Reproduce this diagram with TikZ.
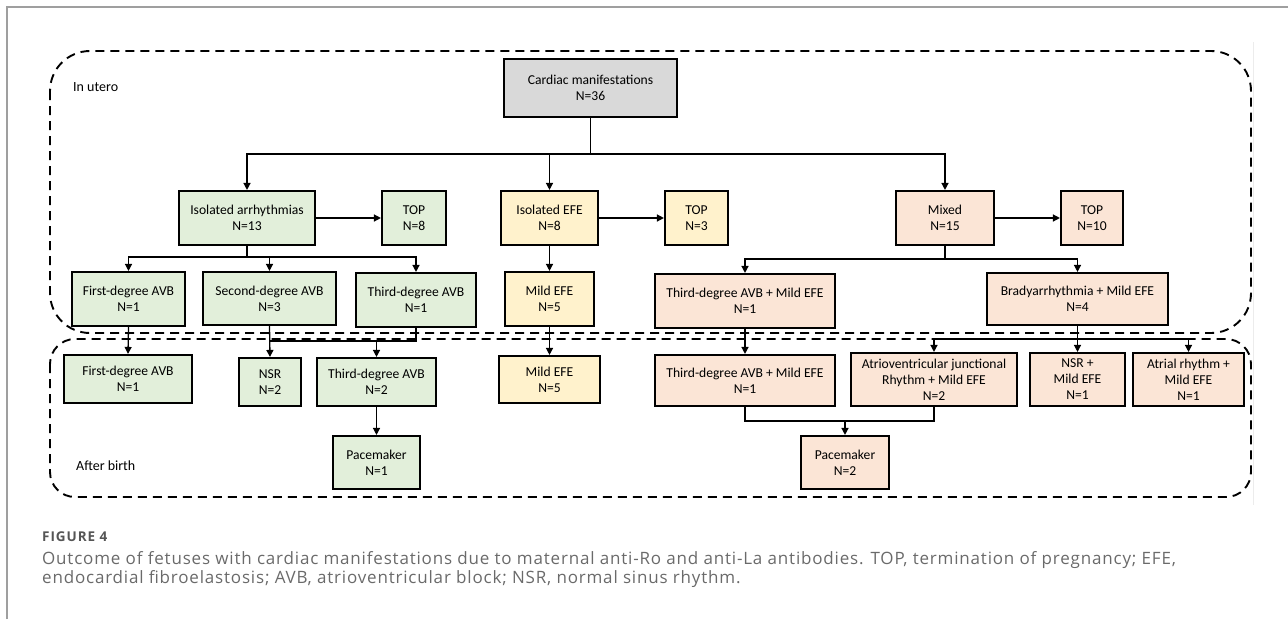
\documentclass[tikz,border=0pt]{standalone}
\usepackage{fontspec}
\setmainfont{Carlito}
\newfontfamily\capfont[LetterSpace=4.8]{Open Sans}
\newfontfamily\capheadfont[LetterSpace=7]{Open Sans}
\usetikzlibrary{arrows.meta}
\definecolor{gfill}{HTML}{E2EFDA}
\definecolor{yfill}{HTML}{FFF2CC}
\definecolor{pfill}{HTML}{FBE5D6}
\definecolor{cfill}{HTML}{D9D9D9}
\definecolor{captext}{HTML}{6A6A6A}
\definecolor{caphead}{HTML}{555555}
\tikzset{
  box/.style={draw, line width=2.1pt, inner sep=0pt, align=center,
    font=\fontsize{13.6}{16}\selectfont},
  gbox/.style={box, fill=gfill},
  ybox/.style={box, fill=yfill},
  pbox/.style={box, fill=pfill},
  conn/.style={line width=1.3pt},
  arr/.style={conn, -{Triangle[length=7pt,width=7pt]}},
  region/.style={line width=1.9pt, dash pattern=on 9pt off 6pt},
  lbl/.style={anchor=west, inner sep=0pt, font=\fontsize{14}{16}\selectfont},
}
\begin{document}
\begin{tikzpicture}[x=1pt,y=-1pt]
\useasboundingbox (0,0) rectangle (1288,619);
% frame
\draw[gray!75, line width=1.2pt] (7,619) -- (7,7) -- (1288,7);
\draw[gray!15, line width=1pt] (1253,42) -- (1253,505);
% regions
\draw[region, rounded corners=40pt] (50,51) rectangle (1251,333);
\draw[region, rounded corners=25pt] (50,339) rectangle (1251,497);
\node[lbl] (lu) at (73,87) {In utero};
\node[lbl] (lb) at (76,466) {After birth};
% level 0
\node[box, fill=cfill, minimum width=173pt, minimum height=58pt] (cm) at (590.5,88) {Cardiac manifestations\\N=36};
% level 1
\node[gbox, minimum width=136pt, minimum height=54pt] (ia) at (247,218) {Isolated arrhythmias\\N=13};
\node[gbox, minimum width=64pt, minimum height=54pt] (top8) at (414,218) {TOP\\N=8};
\node[ybox, minimum width=97pt, minimum height=54pt] (ie) at (549.5,218) {Isolated EFE\\N=8};
\node[ybox, minimum width=63pt, minimum height=54pt] (top3) at (696.5,218) {TOP\\N=3};
\node[pbox, minimum width=98pt, minimum height=54pt] (mx) at (945,218) {Mixed\\N=15};
\node[pbox, minimum width=62pt, minimum height=54pt] (top10) at (1092,218) {TOP\\N=10};
% level 2 (in utero)
\node[gbox, minimum width=113pt, minimum height=54pt] (u1) at (128.5,299) {First-degree AVB\\N=1};
\node[gbox, minimum width=133pt, minimum height=53pt] (u2) at (269.5,298.5) {Second-degree AVB\\N=3};
\node[gbox, minimum width=120pt, minimum height=54pt] (u3) at (416,300) {Third-degree AVB\\N=1};
\node[ybox, minimum width=89pt, minimum height=54pt] (ume) at (549.5,299) {Mild EFE\\N=5};
\node[pbox, minimum width=180pt, minimum height=54pt] (umx1) at (745,301) {Third-degree AVB + Mild EFE\\N=1};
\node[pbox, minimum width=181pt, minimum height=52pt] (umx2) at (1077.5,299) {Bradyarrhythmia + Mild EFE\\N=4};
% after birth
\node[gbox, minimum width=128pt, minimum height=48pt] (b1) at (128,379) {First-degree AVB\\N=1};
\node[gbox, minimum width=62pt, minimum height=48pt] (bnsr) at (270,382) {NSR\\N=2};
\node[gbox, minimum width=119pt, minimum height=48pt] (b3) at (376.5,382) {Third-degree AVB\\N=2};
\node[gbox, minimum width=87pt, minimum height=53pt] (bpm) at (376.5,462.5) {Pacemaker\\N=1};
\node[ybox, minimum width=101pt, minimum height=47pt] (bme) at (549.5,379.5) {Mild EFE\\N=5};
\node[pbox, minimum width=180pt, minimum height=51pt] (bmx1) at (745,380.5) {Third-degree AVB + Mild EFE\\N=1};
\node[pbox, minimum width=166pt, minimum height=53pt] (bav) at (934,379.5) {Atrioventricular junctional\\Rhythm + Mild EFE\\N=2};
\node[pbox, minimum width=95pt, minimum height=53pt] (bnsr2) at (1077.5,379.5) {NSR +\\Mild EFE\\N=1};
\node[pbox, minimum width=111pt, minimum height=53pt] (bar) at (1188.5,379.5) {Atrial rhythm +\\Mild EFE\\N=1};
\node[pbox, minimum width=88pt, minimum height=53pt] (bpm2) at (845,462.5) {Pacemaker\\N=2};
% connectors level 0 -> 1
\coordinate (j1) at (590.5,154);
\draw[conn] (cm.south) -- (j1);
\draw[arr] (j1) -| (ia.north);
\draw[arr] (j1) -| (ie.north);
\draw[arr] (j1) -| (mx.north);
\draw[arr] (ia.east) -- (top8.west);
\draw[arr] (ie.east) -- (top3.west);
\draw[arr] (mx.east) -- (top10.west);
% isolated arrhythmias branches
\coordinate (j2) at (247,257);
\draw[conn] (ia.south) -- (j2);
\draw[arr] (j2) -| (u1.north);
\draw[arr] (j2) -| (u2.north);
\draw[arr] (j2) -| (u3.north);
\draw[arr] (ie.south) -- (ume.north);
% mixed branches
\coordinate (j3) at (945,259);
\draw[conn] (mx.south) -- (j3);
\draw[arr] (j3) -| (umx1.north);
\draw[arr] (j3) -| (umx2.north);
% to after birth
\draw[arr] (u1.south) -- (b1.north);
\draw[arr] (u2.south) -- (bnsr.north);
\coordinate (k1) at (416,341);
\draw[conn] (u3.south) -- (k1) -- (bnsr.north |- k1);
\draw[arr] (b3.north |- k1) -- (b3.north);
\draw[arr] (b3.south) -- (bpm.north);
\draw[arr] (ume.south) -- (bme.north);
\draw[arr] (umx1.south) -- (bmx1.north);
\coordinate (n1) at (1077.5,339);
\draw[conn] (umx2.south) -- (n1);
\draw[arr] (n1) -| (bav.north);
\draw[arr] (n1) -- (bnsr2.north);
\draw[arr] (n1) -| (bar.north);
\coordinate (p1) at (845,421);
\draw[conn] (bmx1.south) |- (p1) -| (bav.south);
\draw[arr] (p1) -- (bpm2.north);
% caption
\node[anchor=base west, inner sep=0pt, text=caphead, font=\capheadfont\fontsize{13.5}{15}\selectfont\bfseries] (fig) at (42,541) {FIGURE 4};
\node[anchor=base west, inner sep=0pt, text=captext, font=\capfont\fontsize{17}{19}\selectfont] (c1) at (42,564) {Outcome of fetuses with cardiac manifestations due to maternal anti-Ro and anti-La antibodies. TOP, termination of pregnancy; EFE,};
\node[anchor=base west, inner sep=0pt, text=captext, font=\capfont\fontsize{17}{19}\selectfont] (c2) at (42,583) {endocardial fibroelastosis; AVB, atrioventricular block; NSR, normal sinus rhythm.};
\end{tikzpicture}
\end{document}
